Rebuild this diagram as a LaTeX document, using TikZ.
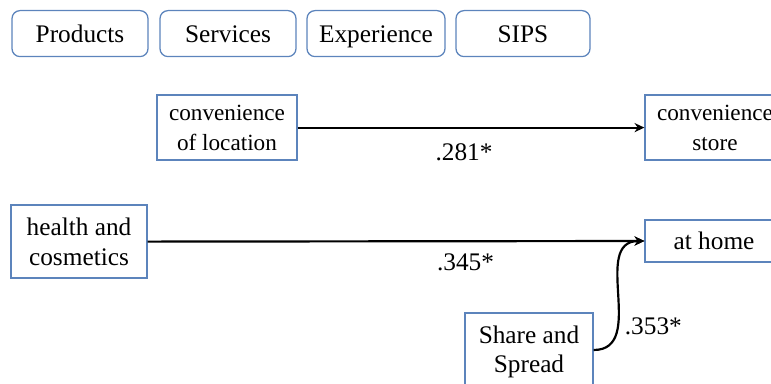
\documentclass[tikz,border=0pt]{standalone}
\usepackage{fontspec}
\setmainfont{Liberation Serif}
\usetikzlibrary{positioning, arrows.meta}

\definecolor{boxblue}{RGB}{92,132,188}

\begin{document}
\begin{tikzpicture}[
    base_box/.style = {draw=boxblue, line width=0.9pt, fill=white, rectangle, align=center, font=\fontsize{18}{21}\selectfont, inner sep=0pt},
    % Style cho các nhãn phía trên (góc bo tròn)
    tag_box/.style = {base_box, rounded corners=0.2cm, minimum width=3.4cm, minimum height=1.15cm, text height=12pt, text depth=0pt},
    % Style cho các biến
    var_box/.style = {base_box, minimum width=3.5cm, minimum height=1.625cm},
    small_box/.style = {var_box, font=\fontsize{16.5}{21.5}\selectfont},
    path_arrow/.style = {-{Stealth[length=7pt, width=6.5pt]}, line width=1.55pt},
    coef/.style = {font=\fontsize{18}{21}\selectfont, inner sep=2pt}
]
\clip (0,0) rectangle (19.275,-9.575);
\useasboundingbox (0,0) rectangle (19.275,-9.575);

% --- Hàng nhãn phía trên ---
\node[tag_box] (products) at (2.0,-0.84) {Products};
\node[tag_box] (services) at (5.7,-0.84) {Services};
\node[tag_box, minimum width=3.45cm] (experience) at (9.4,-0.84) {Experience};
\node[tag_box, minimum width=3.35cm] (sips) at (13.075,-0.84) {SIPS};

% --- Các biến ---
\node[small_box] (location) at (5.675,-3.19) {convenience\\of location};
\node[small_box] (store) at (17.875,-3.19) {convenience\\store};
\node[var_box, minimum width=3.4cm, minimum height=1.825cm] (health) at (1.975,-6.04) {health and\\cosmetics};
\node[var_box, minimum width=3.45cm, minimum height=1.05cm] (home) at (17.85,-6.025) {at home};
\node[var_box, minimum width=3.2cm, minimum height=1.95cm] (share) at (13.225,-8.8) {Share and\\Spread};

% --- Các đường tác động ---
\draw[path_arrow] (location.east) -- node[coef, below, pos=0.48, yshift=-0.3cm] {.281*} (store.west);
\draw[path_arrow] (health.east) -- node[coef, below, pos=0.64, yshift=-0.22cm] {.345*} (home.west);
\draw[path_arrow] (share.east |- 0,-8.75) to[out=0, in=180, looseness=1.15] node[coef, right, pos=0.3, xshift=2pt] {.353*} (home.west);

\end{tikzpicture}
\end{document}
